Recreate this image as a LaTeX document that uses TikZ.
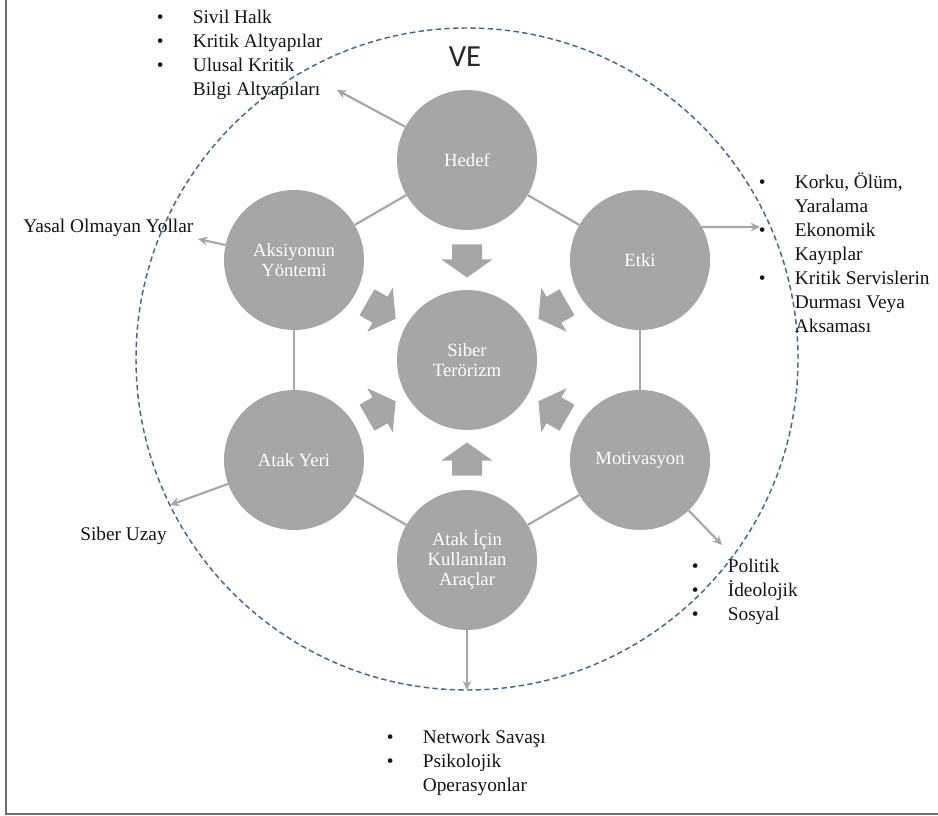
\documentclass[tikz,border=0pt]{standalone}
\usepackage{fontspec}
\setmainfont{Liberation Serif}
\newfontfamily\vefont{Carlito}
\usetikzlibrary{arrows.meta}
\definecolor{bubgray}{RGB}{166,166,166}
\definecolor{lngray}{RGB}{166,166,166}
\definecolor{dashblue}{RGB}{79,98,140}
\definecolor{framegray}{RGB}{110,110,110}
\newcommand\lbul{\makebox[27pt][l]{\textbullet}}
\newcommand\lnob{\hspace*{27pt}}
\begin{document}
\begin{tikzpicture}[x=0.75pt,y=-0.75pt,
 bub/.style={circle, fill=bubgray, minimum size=105pt, inner sep=0pt, text=white, align=center, font=\fontsize{14}{15}\selectfont},
 link/.style={draw=lngray, line width=1.6pt},
 outarr/.style={draw=lngray, line width=1.6pt, -{Stealth[length=7pt,width=6.5pt]}},
 lst/.style={anchor=base west, inner sep=0pt, font=\fontsize{14.5}{18}\selectfont, text=black!92},
 pics/blockarr/.style={code={\fill[bubgray] (-15,-16.5) -- (15,-16.5) -- (15,-1.5) -- (25.5,-1.5) -- (0,16.5) -- (-25.5,-1.5) -- (-15,-1.5) -- cycle;}}
]
\useasboundingbox (0,0) rectangle (938,816);
\coordinate (fa) at (6,0);
\coordinate (fb) at (6,814);
\coordinate (fc) at (938,814);
\draw[framegray, line width=1.5pt] (fa) -- (fb) -- (fc);

\node[circle, draw=dashblue, dash pattern=on 4pt off 2.5pt, line width=1.1pt, minimum size=496.5pt, inner sep=0pt] (ve) at (467,359) {};
\node[font=\vefont\fontsize{23}{26}\selectfont, text=black!85] (velbl) at (465,57) {VE};

\node[bub] (hedef) at (467,160) {Hedef};
\node[bub] (etki) at (640,260) {Etki};
\node[bub] (motiv) at (640,460) {Motivasyon};
\node[bub] (arac) at (467,560) {Atak İçin\\Kullanılan\\Araçlar};
\node[bub] (yeri) at (294,460) {Atak Yeri};
\node[bub] (yontem) at (294,260) {Aksiyonun\\Yöntemi};
\node[bub] (siber) at (467,360) {Siber\\Terörizm};

\draw[link] (hedef) -- (etki);
\draw[link] (etki) -- (motiv);
\draw[link] (motiv) -- (arac);
\draw[link] (arac) -- (yeri);
\draw[link] (yeri) -- (yontem);
\draw[link] (yontem) -- (hedef);

\pic at (467,261) {blockarr};
\pic[rotate=-60] at (552.7,310.5) {blockarr};
\pic[rotate=-120] at (552.7,409.5) {blockarr};
\pic[rotate=180] at (467,459) {blockarr};
\pic[rotate=120] at (381.3,409.5) {blockarr};
\pic[rotate=60] at (381.3,310.5) {blockarr};

\coordinate (tHedef) at (337,90);
\coordinate (tEtki) at (760,227);
\coordinate (tYontem) at (198,239);
\coordinate (tYeri) at (170,505);
\coordinate (tArac) at (467,690);
\coordinate (tMotiv) at (722,545);
\draw[outarr] (hedef) -- (tHedef);
\draw[outarr] (etki.28) -- (tEtki);
\draw[outarr] (yontem) -- (tYontem);
\draw[outarr] (yeri) -- (tYeri);
\draw[outarr] (arac) -- (tArac);
\draw[outarr] (motiv) -- (tMotiv);

\node[lst] (lHedef) at (156.6,24) {\begin{tabular}[t]{@{}l@{}}\lbul Sivil Halk\\\lbul Kritik Altyapılar\\\lbul Ulusal Kritik\\\lnob Bilgi Altyapıları\end{tabular}};
\node[lst] (lEtki) at (758.6,189) {\begin{tabular}[t]{@{}l@{}}\lbul Korku, Ölüm,\\\lnob Yaralama\\\lbul Ekonomik\\\lnob Kayıplar\\\lbul Kritik Servislerin\\\lnob Durması Veya\\\lnob Aksaması\end{tabular}};
\node[lst] (lMotiv) at (691.6,572) {\begin{tabular}[t]{@{}l@{}}\lbul Politik\\\lbul İdeolojik\\\lbul Sosyal\end{tabular}};
\node[lst] (lArac) at (386.6,743) {\begin{tabular}[t]{@{}l@{}}\lbul Network Savaşı\\\lbul Psikolojik\\\lnob Operasyonlar\end{tabular}};
\node[lst] (lYontem) at (23,233) {Yasal Olmayan Yollar};
\node[lst] (lYeri) at (80,540) {Siber Uzay};
\end{tikzpicture}
\end{document}
